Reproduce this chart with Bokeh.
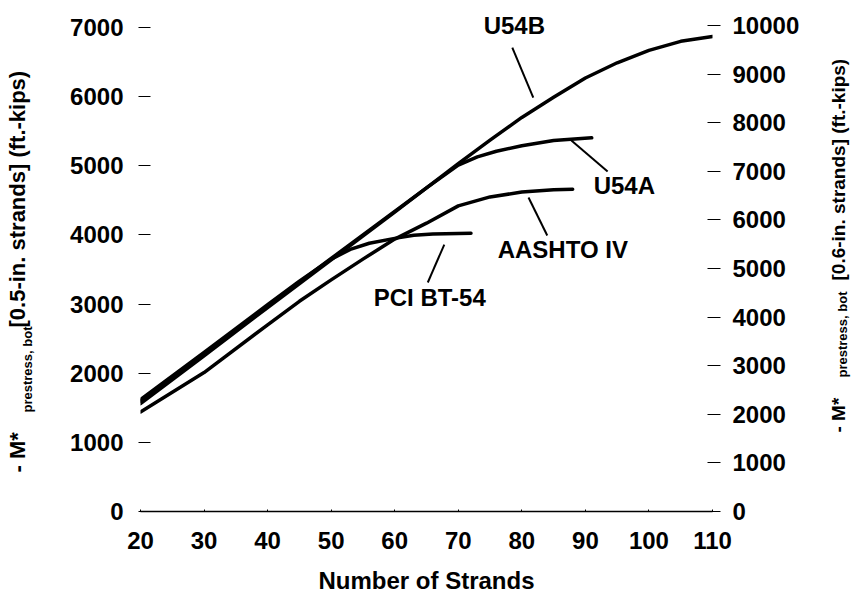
import math
from bokeh.plotting import figure
from bokeh.models import Range1d, LinearAxis, FixedTicker, LabelSet, ColumnDataSource
from bokeh.core.properties import value
from bokeh.layouts import row
from bokeh.embed import file_html
from bokeh.resources import INLINE

# ---- data (left axis units, ft.-kips for 0.5-in. strands) ----
strands_u54b = [20, 30, 40, 50, 60, 70, 75, 80, 85, 90, 95, 100, 105, 110]
m_u54b = [1560, 2250, 2950, 3640, 4330, 5030, 5370, 5700, 5990, 6270, 6490, 6670, 6800, 6870]

strands_u54a = [20, 30, 40, 50, 60, 65, 70, 73, 76, 80, 85, 91]
m_u54a = [1600, 2280, 2970, 3660, 4340, 4680, 5010, 5130, 5210, 5290, 5365, 5405]

strands_pci = [20, 30, 40, 45, 50, 53, 56, 60, 63, 66, 72]
m_pci = [1620, 2300, 2990, 3330, 3650, 3790, 3880, 3950, 3995, 4015, 4025]

strands_aashto = [20, 30, 40, 45, 50, 55, 60, 65, 70, 75, 80, 85, 88]
m_aashto = [1440, 2010, 2700, 3040, 3350, 3650, 3940, 4170, 4420, 4550, 4620, 4655, 4660]

# curve names and label anchors (data coords)
curve_names = ["U54B", "U54A", "AASHTO IV", "PCI BT-54"]
label_x = [74.0, 91.3, 76.2, 56.7]
label_y = [6913, 4599, 3673, 2979]
# leader lines: from (x0, y0) to (x1, y1)
leader_x0 = [78.5, 87.8, 81.05, 67.8]
leader_y0 = [6710, 5365, 4541, 3861]
leader_x1 = [81.8, 93.5, 84.0, 65.2]
leader_y1 = [5987, 4917, 3992, 3312]

x_ticks = [20, 30, 40, 50, 60, 70, 80, 90, 100, 110]
left_ticks = [0, 1000, 2000, 3000, 4000, 5000, 6000, 7000]
right_ticks = [0, 1000, 2000, 3000, 4000, 5000, 6000, 7000, 8000, 9000, 10000]

x_title = "Number of Strands"
y_title_left = ["- M*", "prestress, bot", "[0.5-in. strands] (ft.-kips)"]
y_title_right = ["- M*", "prestress, bot", "[0.6-in. strands] (ft.-kips)"]

FONT = "Liberation Sans"
H = 596
TOP, BOT = 8, 85          # frame borders shared by all three figures
LW, MW, RW = 46, 779, 29

p = figure(width=MW, height=H, output_backend="svg", toolbar_location=None,
           x_range=Range1d(20, 110), y_range=Range1d(0, 7275),
           min_border_left=94, min_border_right=113, min_border_top=TOP,
           min_border_bottom=BOT)
p.outline_line_color = None
p.grid.visible = False

p.extra_y_ranges = {"right": Range1d(0, 10350)}

# x axis
p.xaxis.ticker = FixedTicker(ticks=x_ticks)
p.xaxis.axis_line_color = "black"
p.xaxis.axis_line_width = 1.5
p.xaxis.major_tick_in = 2
p.xaxis.major_tick_out = 0
p.xaxis.minor_tick_line_color = None
p.xaxis.major_label_standoff = 20
p.xaxis.major_label_text_font = FONT
p.xaxis.major_label_text_font_style = "bold"
p.xaxis.major_label_text_font_size = "24px"
p.xaxis.major_label_text_color = "black"
p.xaxis.axis_label = x_title
p.xaxis.axis_label_standoff = 15
p.xaxis.axis_label_text_font = FONT
p.xaxis.axis_label_text_font_style = "bold"
p.xaxis.axis_label_text_font_size = "24px"
p.xaxis.axis_label_text_color = "black"

# left axis
p.yaxis.ticker = FixedTicker(ticks=left_ticks)
p.yaxis.axis_line_color = None
p.yaxis.major_tick_in = 10
p.yaxis.major_tick_out = 2
p.yaxis.major_tick_line_width = 1
p.yaxis.minor_tick_line_color = None
p.yaxis.major_label_standoff = 15
p.yaxis.major_label_text_font = FONT
p.yaxis.major_label_text_font_style = "bold"
p.yaxis.major_label_text_font_size = "24px"
p.yaxis.major_label_text_color = "black"

# right axis
ra = LinearAxis(y_range_name="right", ticker=FixedTicker(ticks=right_ticks))
ra.axis_line_color = None
ra.major_tick_in = 5
ra.major_tick_out = 8
ra.major_tick_line_width = 1
ra.minor_tick_line_color = None
ra.major_label_standoff = 12
ra.major_label_text_font = FONT
ra.major_label_text_font_style = "bold"
ra.major_label_text_font_size = "24px"
ra.major_label_text_color = "black"
p.add_layout(ra, "right")

# curves
for xs, ys in [(strands_aashto, m_aashto), (strands_pci, m_pci),
               (strands_u54a, m_u54a), (strands_u54b, m_u54b)]:
    p.line(xs, ys, line_color="black", line_width=3.5, line_join="round", line_cap="round")

# leaders
p.segment(x0=leader_x0, y0=leader_y0, x1=leader_x1, y1=leader_y1,
          line_color="black", line_width=2)

# curve labels
src = ColumnDataSource(dict(x=label_x, y=label_y, t=curve_names))
p.add_layout(LabelSet(x="x", y="y", text="t", source=src,
                      text_font=value(FONT), text_font_style="bold",
                      text_font_size="24px", text_color="black",
                      text_align="left", text_baseline="alphabetic"))


def side_fig(w):
    # frame spans page rows TOP..H-BOT; y data = H - page_y
    f = figure(width=w, height=H, output_backend="svg", toolbar_location=None,
               x_range=Range1d(0, w), y_range=Range1d(BOT, H - TOP),
               x_axis_type=None, y_axis_type=None,
               min_border_left=0, min_border_right=0,
               min_border_top=TOP, min_border_bottom=BOT)
    f.outline_line_color = None
    f.grid.visible = False
    return f


def vtext(f, x, y_page, txt, size):
    f.text(x=[x], y=[H - y_page], text=[txt], angle=math.pi / 2,
           text_font=value(FONT), text_font_style="bold", text_font_size=size,
           text_color="black", text_align="left", text_baseline="alphabetic")


lf = side_fig(LW)
vtext(lf, 17, 472, y_title_left[0], "22px")
vtext(lf, 27, 412, y_title_left[1], "13px")
vtext(lf, 17, 327, y_title_left[2], "22px")

rf = side_fig(RW)
vtext(rf, 13, 432, y_title_right[0], "19px")
vtext(rf, 17, 377, y_title_right[1], "13px")
vtext(rf, 13, 280, y_title_right[2], "19px")

layout = row(lf, p, rf, spacing=0)
open("out.html", "w").write(file_html(layout, INLINE))
